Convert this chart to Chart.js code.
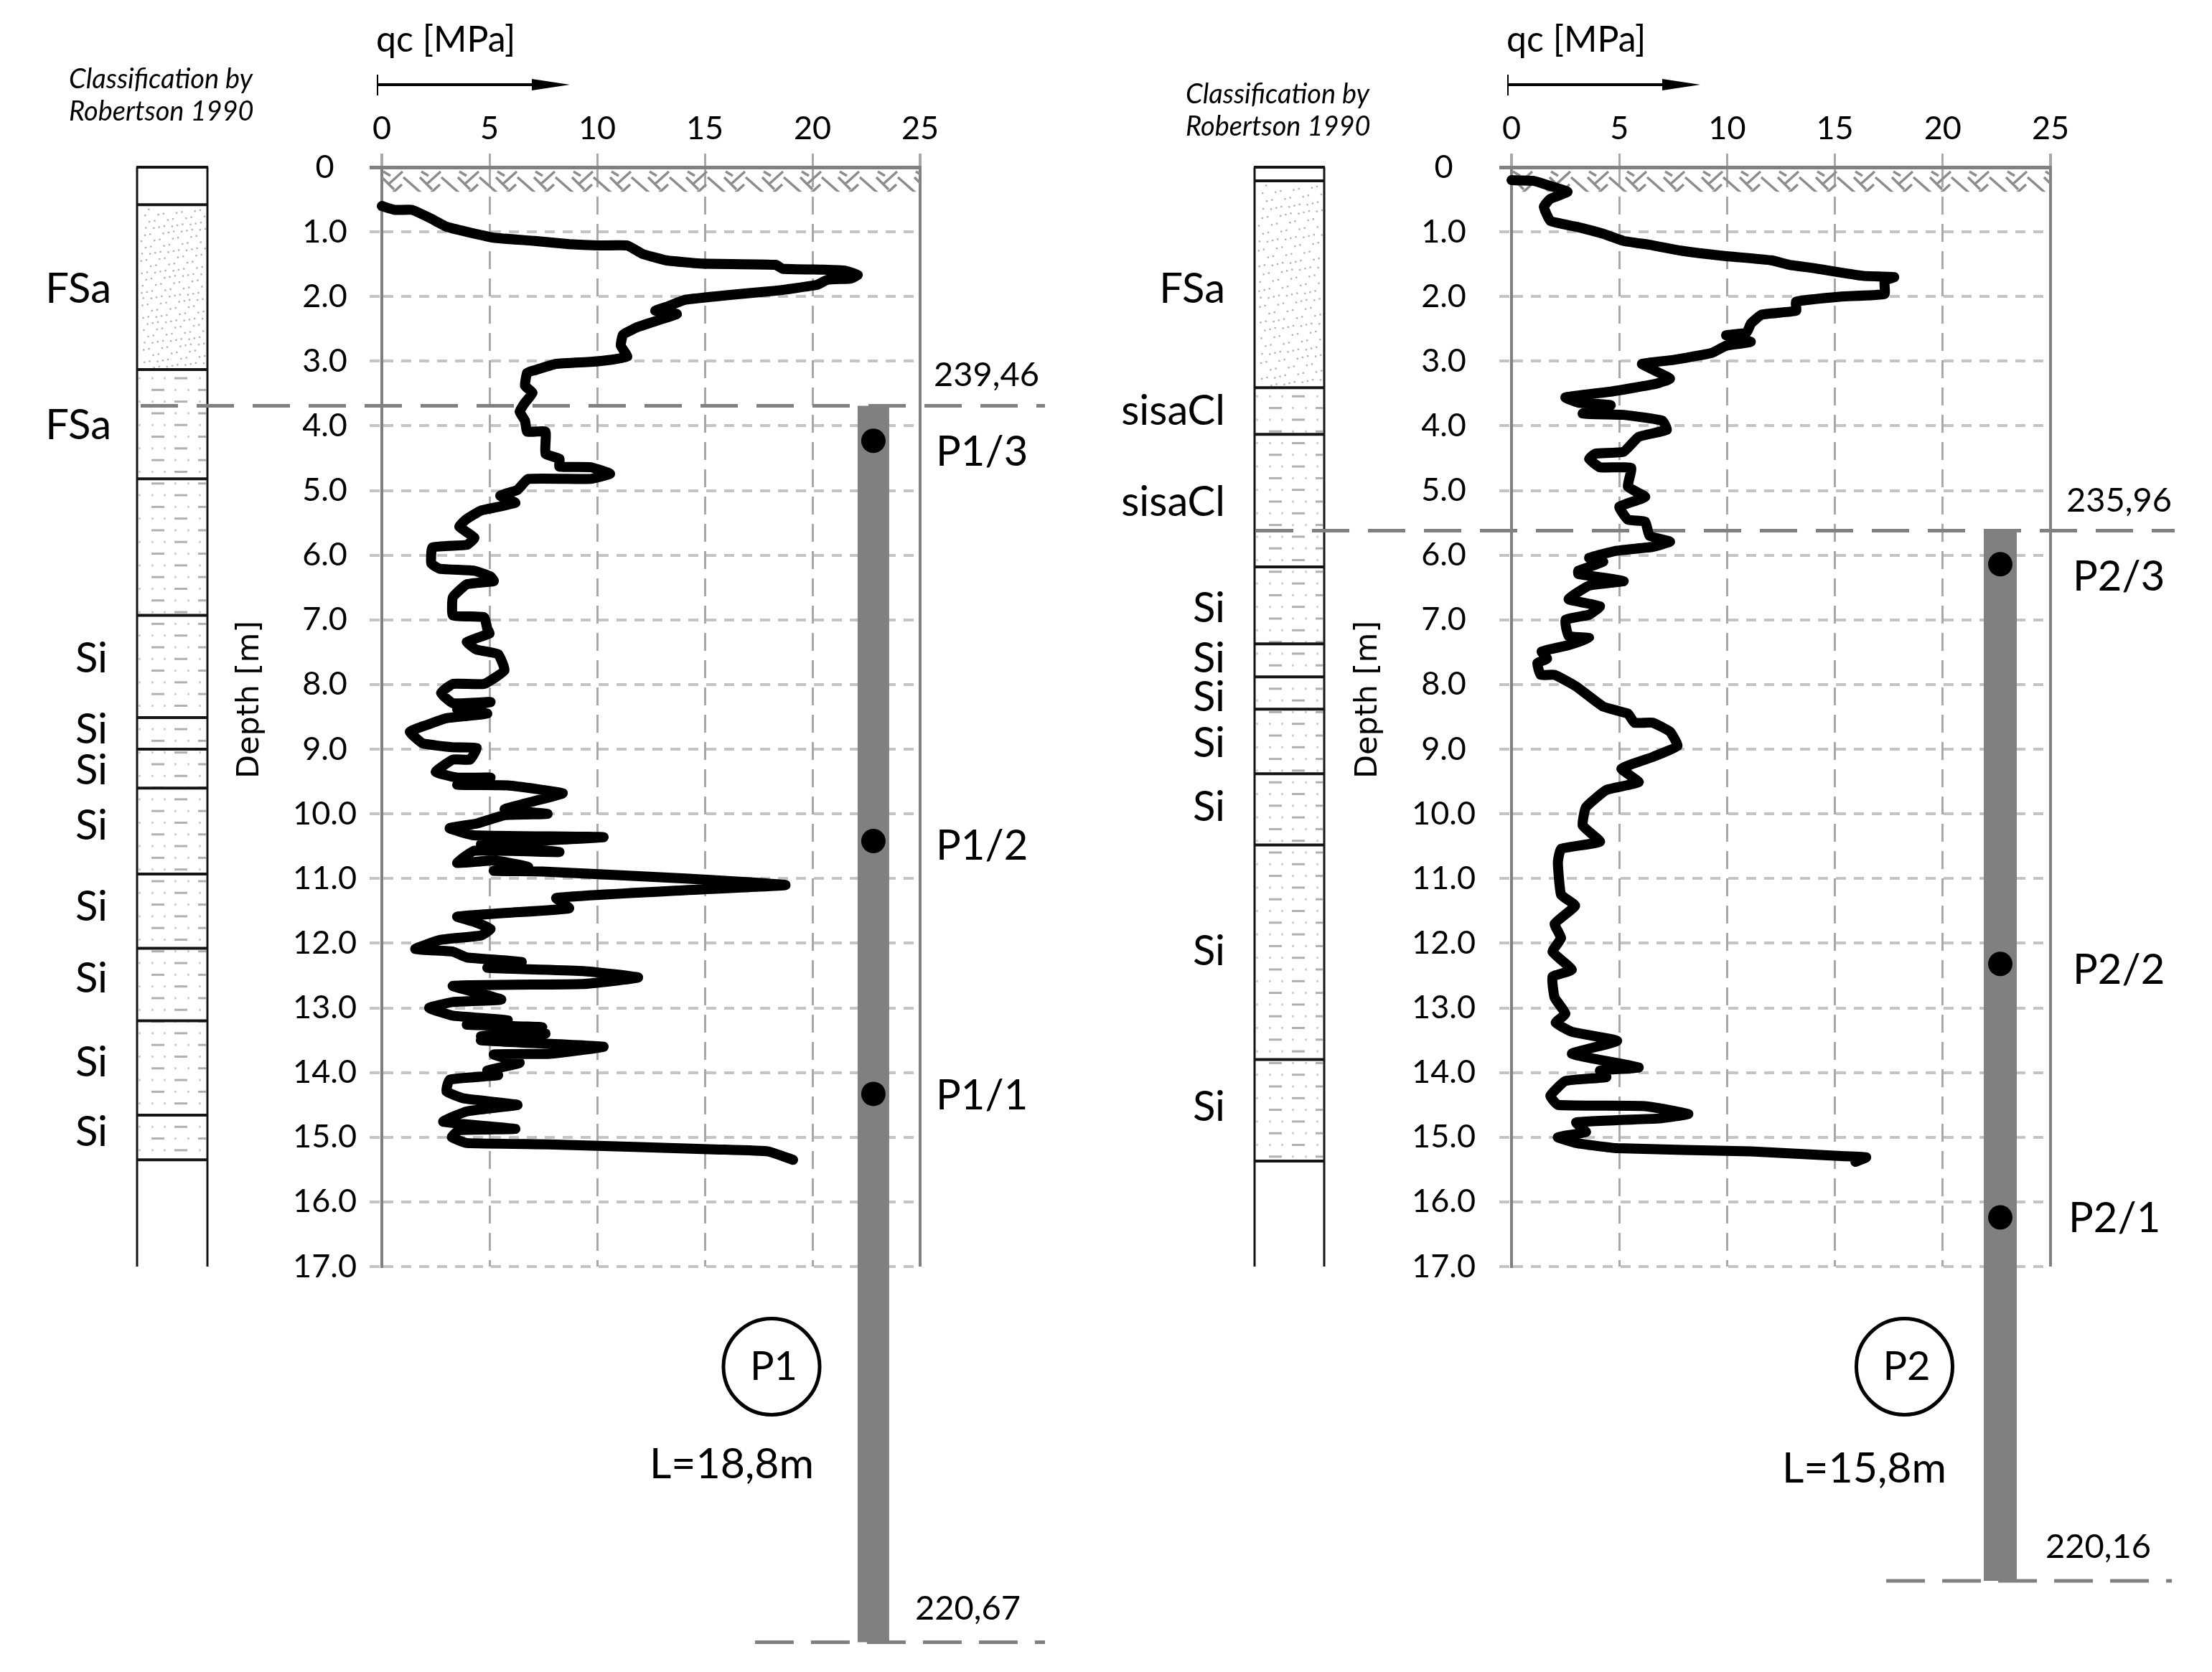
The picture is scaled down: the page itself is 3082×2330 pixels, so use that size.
<!DOCTYPE html>
<html>
<head>
<meta charset="utf-8">
<title>CPT profiles P1 and P2</title>
<script src="https://cdn.jsdelivr.net/npm/chart.js@4"></script>
<style>
  html, body { margin: 0; padding: 0; background: #fff; }
  canvas { position: absolute; top: 0; }
</style>
</head>
<body>
<canvas id="panelP1" width="1541" height="2330" style="left:0"></canvas>
<canvas id="panelP2" width="1541" height="2330" style="left:1541px"></canvas>
<script>
// x axis ticks
const qcTicks = [0, 5, 10, 15, 20, 25]

// qc trace of P1 [MPa] against depth [m]
const p1Qc = [0,.6,1.4,2.2,3,3.95,5.2,7.1,8.7,10,11.4,12.1,13.2,14.8,18.3,18.6,20.5,21.5,22.1,21.8,20.7,20.2,18.3,16,14.1,13.3,12.7,13.7,12.9,11.9,11.2,11.1,11.4,10.6,9.7,8.1,7.1,6.75,6.65,7,6.65,6.4,6.65,6.75,7.6,7.6,8.25,8.25,9.7,10.6,9.7,6.8,6.3,5.5,6.2,4.6,3.9,3.6,4.3,3.95,2.35,2.3,2.7,4.3,5.05,5.2,3.95,3.3,3.3,4.75,4.9,5,3.95,4.4,5.4,5.7,4.75,3.3,2.75,3.3,5.05,3.5,4.9,3,2.05,1.3,1.9,3.3,4.4,4.1,3.3,2.5,3.5,5.05,3.5,5.85,8.4,7.1,5.7,7.7,5.7,4.4,3.15,4.25,10.3,4.6,8.25,4.3,3.5,5.2,6.8,5.2,7.45,14.1,18.75,14.1,8.1,8.7,5.85,3.5,4.3,5.05,4.6,2.7,1.55,3.3,3.95,6.5,4.9,9.35,11.9,9.35,3.3,5.55,3.3,2.2,3.3,5.85,3.95,7.45,4.6,7.6,4.6,10.3,7.8,5.2,6.4,4.9,5.4,3.15,3,3.8,6.3,3.95,2.85,6.2,3.6,3.25,3.95,7.75,15.7,17.95,19.1]
const p1Depth = [.6,.66,.66,.78,.92,1,1.09,1.14,1.19,1.21,1.21,1.34,1.44,1.49,1.51,1.57,1.585,1.6,1.665,1.72,1.74,1.82,1.91,1.98,2.05,2.15,2.22,2.27,2.36,2.47,2.59,2.76,2.93,2.98,3.01,3.04,3.14,3.18,3.38,3.49,3.64,3.78,3.92,4.09,4.09,4.43,4.51,4.63,4.64,4.74,4.82,4.82,4.99,5.08,5.19,5.31,5.45,5.56,5.73,5.84,5.88,6.13,6.21,6.24,6.33,6.4,6.45,6.65,6.93,6.96,7.14,7.21,7.34,7.46,7.53,7.78,7.99,7.99,8.13,8.29,8.27,8.38,8.45,8.52,8.63,8.73,8.91,8.97,8.98,9.16,9.16,9.35,9.44,9.44,9.55,9.56,9.68,9.8,9.93,10,10.02,10.15,10.22,10.33,10.36,10.47,10.59,10.57,10.76,10.72,10.82,10.88,10.89,11,11.1,11.18,11.3,11.46,11.53,11.59,11.67,11.78,11.88,11.95,12.09,12.13,12.22,12.29,12.38,12.43,12.53,12.63,12.66,12.87,12.91,13,13.12,13.19,13.26,13.3,13.44,13.4,13.5,13.6,13.71,13.72,13.85,13.97,14.04,14.11,14.29,14.4,14.5,14.6,14.76,14.87,14.89,15,15.09,15.11,15.19,15.22,15.35]

// qc trace of P2
const p2Qc = [0,1,1.8,2.6,1.8,1.5,1.8,3,4.25,5.2,6.4,7.85,9.8,12.05,12.9,14,16.3,17.75,17.3,17.3,15.3,13.2,13.2,11.6,11.1,10.9,9.95,11.1,9.95,9.3,7.5,6.05,6.55,7.35,6.7,4.6,2.5,3.1,4.6,3.3,5.2,7,7.2,5.9,5.2,3.9,3.6,4.1,5.55,5.4,6.2,5,5.4,6.2,6.4,7.35,6.55,4.9,3.6,4.25,3.1,3.1,5.2,3.6,2.65,4.1,3.6,2.5,2.65,3.6,2.65,1.4,1.65,1.2,1.35,2,3,4.25,5.4,5.7,6.55,7.35,7.7,6.55,5.1,5.9,4.4,3.45,3.3,4.1,2.3,2.15,2.3,2.95,2,2.3,1.9,2.8,1.9,2,2.5,2.05,2.8,4.9,2.8,5.9,4.1,4.4,2.5,1.8,2.15,6.2,8.2,6.85,3,3.45,2.15,3,4.9,11.1,15.3,16.45,15.95]
const p2Depth = [.2,.21,.29,.38,.49,.61,.83,.92,1.03,1.14,1.2,1.29,1.37,1.44,1.51,1.56,1.68,1.7,1.755,1.96,2,2.08,2.22,2.28,2.42,2.56,2.6,2.7,2.76,2.87,2.98,3.04,3.13,3.27,3.35,3.47,3.56,3.64,3.68,3.81,3.83,3.92,4.06,4.17,4.4,4.43,4.51,4.64,4.65,4.94,5.1,5.25,5.45,5.48,5.7,5.79,5.87,5.93,6.04,6.1,6.24,6.29,6.4,6.47,6.68,6.79,6.92,7,7.25,7.28,7.39,7.49,7.6,7.67,7.85,7.85,8.03,8.34,8.45,8.59,8.59,8.73,8.95,9.12,9.3,9.51,9.63,9.9,10.18,10.43,10.54,10.75,11.25,11.42,11.7,11.92,12.13,12.41,12.52,12.84,13.09,13.23,13.37,13.51,13.71,13.92,13.97,14.07,14.13,14.36,14.5,14.52,14.64,14.71,14.77,14.92,15,15.09,15.17,15.22,15.29,15.31,15.38]

// sampling points on the piles
const p1SampleNames = ['P1/3', 'P1/2', 'P1/1']
const p1SampleDepth = [4.23, 10.42, 14.33]
const p1SampleQc = [22.83, 22.83, 22.83]
const p2SampleNames = ['P2/3', 'P2/2', 'P2/1']
const p2SampleDepth = [6.14, 12.32, 16.24]
const p2SampleQc = [22.67, 22.67, 22.67]

// pile head and toe [m]
const p1PileDepth = [3.69, 22.81]
const p2PileDepth = [5.62, 21.86]

// soil column
const p1LayerTops = [0, .58, 3.13, 4.82, 6.93, 8.51, 9, 9.6, 10.93, 12.08, 13.2, 14.66, 15.35]
const p2LayerTops = [0, .21, 3.41, 4.13, 6.18, 7.37, 7.88, 8.38, 9.38, 10.48, 13.8, 15.37]
const p1SoilNames = ['FSa', 'FSa', 'Si', 'Si', 'Si', 'Si', 'Si', 'Si', 'Si', 'Si']
const p1SoilDepth = [1.89, 4, 7.6, 8.7, 9.33, 10.19, 11.44, 12.55, 13.85, 14.93]
const p2SoilNames = ['FSa', 'sisaCl', 'sisaCl', 'Si', 'Si', 'Si', 'Si', 'Si', 'Si', 'Si']
const p2SoilDepth = [1.89, 3.78, 5.18, 6.83, 7.6, 8.2, 8.91, 9.9, 12.13, 14.54]

const FONT = 'Lato, "Open Sans", sans-serif'
const INK = '#000'

function zip(xs, ys) {
  return xs.map((x, i) => ({ x: x, y: ys[i] }))
}

function text(ctx, str, x, y, size, align, style) {
  ctx.font = (style ? style + ' ' : '') + size + 'px ' + FONT
  ctx.fillStyle = INK
  ctx.textAlign = align || 'left'
  ctx.textBaseline = 'middle'
  ctx.fillText(str, x, y)
}

function drawHatch(ctx, left, right, top, bottom) {
  // herringbone ground symbol
  const tile = [[30, 12, 55, 34], [0, 12, 17, 29], [29, 4, 9, 22], [28, 22, 15, 34], [2, 4, 12, 10]]
  ctx.save()
  ctx.beginPath()
  ctx.rect(left, top, right - left, bottom - top)
  ctx.clip()
  ctx.strokeStyle = '#8c8c8c'
  ctx.lineWidth = 3.5
  ctx.beginPath()
  for (let x = left - 53; x < right; x += 53) {
    tile.forEach(s => {
      ctx.moveTo(x + s[0], top + s[1])
      ctx.lineTo(x + s[2], top + s[3])
    })
  }
  ctx.stroke()
  ctx.restore()
}

function drawSand(ctx, left, right, top, bottom) {
  const w = right - left, h = bottom - top
  ctx.fillStyle = '#b4b4b4'
  for (let i = 1; i < 210; i++) {
    const px = left + 4 + ((i * 0.7548777) % 1) * (w - 8)
    const py = top + 5 + ((i * 0.5698403) % 1) * (h - 8)
    ctx.fillRect(px, py, 2.4, 2.4)
  }
}

function drawSilt(ctx, left, right, top, bottom) {
  ctx.save()
  ctx.beginPath()
  ctx.rect(left + 2, top, right - left - 4, bottom - top)
  ctx.clip()
  let row = 0
  for (let y = top + 12; y < bottom; y += 16.3, row++) {
    const dots = row % 2 ? [52, 70] : [2, 20, 37, 86]
    const dashes = row % 2 ? [[20, 18], [85, 16]] : [[52, 18]]
    ctx.fillStyle = '#d0d0d0'
    dots.forEach(d => ctx.fillRect(left + d, y - 1.5, 3, 3))
    ctx.fillStyle = '#b0b0b0'
    dashes.forEach(d => ctx.fillRect(left + d[0], y - 1.5, d[1], 3))
  }
  ctx.restore()
}

function drawColumn(chart, cfg) {
  const ctx = chart.ctx
  const y = chart.scales.y
  const left = cfg.colLeft, right = cfg.colRight
  const tops = cfg.layerTops
  drawSand(ctx, left, right, y.getPixelForValue(tops[1]), y.getPixelForValue(tops[2]))
  drawSilt(ctx, left, right, y.getPixelForValue(tops[2]), y.getPixelForValue(tops[tops.length - 1]))
  ctx.strokeStyle = '#141414'
  ctx.lineWidth = 3
  ctx.beginPath()
  ctx.moveTo(left, y.getPixelForValue(0))
  ctx.lineTo(left, y.getPixelForValue(17))
  ctx.moveTo(right, y.getPixelForValue(0))
  ctx.lineTo(right, y.getPixelForValue(17))
  ctx.stroke()
  ctx.lineWidth = 4
  ctx.beginPath()
  tops.forEach(d => {
    ctx.moveTo(left - 1, y.getPixelForValue(d))
    ctx.lineTo(right + 1, y.getPixelForValue(d))
  })
  ctx.stroke()
}

// everything around the plot that chart.js has no element for
const profileExtras = {
  id: 'profileExtras',
  beforeDatasetsDraw(chart, args, cfg) {
    const area = chart.chartArea
    drawHatch(chart.ctx, area.left, area.right, area.top + 2, chart.scales.y.getPixelForValue(0.38))
    drawColumn(chart, cfg)
  },
  afterDatasetsDraw(chart, args, cfg) {
    const ctx = chart.ctx
    const y = chart.scales.y
    const dx = cfg.offsetX

    text(ctx, 'qc [MPa]', cfg.qcLeft - dx, 56, 50)
    cfg.classLines.forEach((line, i) => {
      text(ctx, line, cfg.classLeft - dx, cfg.classY + i * 45, 38, 'left', 'italic')
    })

    // direction arrow under the qc title
    const ax = cfg.qcLeft + 2 - dx
    ctx.strokeStyle = INK
    ctx.lineWidth = 2
    ctx.beginPath()
    ctx.moveTo(ax, 104)
    ctx.lineTo(ax, 133)
    ctx.stroke()
    ctx.lineWidth = 4
    ctx.beginPath()
    ctx.moveTo(ax, 118)
    ctx.lineTo(ax + 225, 118)
    ctx.stroke()
    ctx.fillStyle = INK
    ctx.beginPath()
    ctx.moveTo(ax + 215, 110)
    ctx.lineTo(ax + 268, 118)
    ctx.lineTo(ax + 215, 126)
    ctx.closePath()
    ctx.fill()

    ctx.save()
    ctx.translate(cfg.depthTitleX - dx, 975)
    ctx.rotate(-Math.PI / 2)
    ctx.font = '43px "DejaVu Sans", sans-serif'
    ctx.fillStyle = INK
    ctx.textAlign = 'center'
    ctx.textBaseline = 'middle'
    ctx.fillText('Depth [m]', 0, 0)
    ctx.restore()

    cfg.soilNames.forEach((name, i) => {
      const gap = cfg.soilGap + (name === 'Si' ? cfg.siShift : 0)
      text(ctx, name, cfg.colLeft - gap, y.getPixelForValue(cfg.soilDepth[i]), 58, 'right')
    })
    cfg.sampleNames.forEach((name, i) => {
      text(ctx, name, cfg.sampleLeft[i] - dx, cfg.sampleY[i], 58)
    })
    text(ctx, cfg.headLevel, cfg.headLeft - dx, cfg.headY, 47)
    text(ctx, cfg.toeLevel, cfg.toeLeft - dx, cfg.toeY, 47)

    ctx.strokeStyle = INK
    ctx.lineWidth = 5
    ctx.beginPath()
    ctx.arc(cfg.circleX - dx, 1904.5, 67, 0, Math.PI * 2)
    ctx.stroke()
    text(ctx, cfg.pileName, cfg.circleX + 3 - dx, 1905, 56, 'center')
    text(ctx, cfg.lengthLabel, cfg.lengthLeft - dx, cfg.lengthY, 59)
  }
}

function buildPanel(canvasId, cfg) {
  const pileQc = cfg.sampleQc[0]
  new Chart(document.getElementById(canvasId), {
    type: 'scatter',
    plugins: [profileExtras],
    data: {
      datasets: [
        {
          label: 'samples',
          data: zip(cfg.sampleQc, cfg.sampleDepth),
          showLine: false,
          pointRadius: 17,
          pointBackgroundColor: '#000',
          pointBorderWidth: 0,
          order: 1,
          clip: false
        },
        {
          label: 'qc',
          data: zip(cfg.qc, cfg.depth),
          showLine: true,
          borderColor: '#000',
          borderWidth: 14,
          borderJoinStyle: 'round',
          borderCapStyle: 'round',
          pointRadius: 0,
          tension: 0.12,
          order: 2,
          clip: false
        },
        {
          label: 'head level',
          data: zip(cfg.headQc, [cfg.pileDepth[0], cfg.pileDepth[0]]),
          showLine: true,
          borderColor: '#808080',
          borderWidth: 5,
          borderDash: [52, 26],
          pointRadius: 0,
          order: 3,
          clip: false
        },
        {
          label: 'toe level',
          data: zip(cfg.toeQc, [cfg.pileDepth[1], cfg.pileDepth[1]]),
          showLine: true,
          borderColor: '#808080',
          borderWidth: 5,
          borderDash: [54, 24],
          pointRadius: 0,
          order: 4,
          clip: false
        },
        {
          label: 'pile',
          data: zip([pileQc, pileQc], cfg.pileDepth),
          showLine: true,
          borderColor: '#808080',
          borderWidth: cfg.pileWidth,
          borderCapStyle: 'butt',
          pointRadius: 0,
          order: 5,
          clip: false
        }
      ]
    },
    options: {
      responsive: false,
      animation: false,
      devicePixelRatio: 1,
      events: [],
      layout: {
        autoPadding: false,
        padding: { top: 0, left: 0, right: cfg.paddingRight, bottom: 565 }
      },
      plugins: {
        legend: { display: false },
        tooltip: { enabled: false },
        profileExtras: cfg
      },
      scales: {
        x: {
          type: 'linear',
          position: 'top',
          min: 0,
          max: 25,
          afterFit: scale => { scale.height = 233 },
          afterBuildTicks: scale => { scale.ticks = qcTicks.map(v => ({ value: v })) },
          ticks: {
            color: INK,
            padding: 8,
            maxRotation: 0,
            autoSkip: false,
            font: { family: FONT, size: 45 }
          },
          grid: {
            color: c => (c.tick.value === 0 || c.tick.value === 25 ? '#808080' : '#a8a8a8'),
            lineWidth: c => (c.tick.value === 0 || c.tick.value === 25 ? 4 : 3),
            tickLength: 19,
            tickColor: '#a8a8a8'
          },
          border: {
            display: true,
            color: '#808080',
            width: 5,
            dash: c => (c.tick && (c.tick.value === 0 || c.tick.value === 25) ? [] : [25, 13])
          }
        },
        y: {
          type: 'linear',
          position: 'left',
          reverse: true,
          min: 0,
          max: 17,
          afterFit: scale => { scale.width = cfg.axisLeft },
          ticks: {
            stepSize: 1,
            color: INK,
            padding: cfg.yTickPadding,
            crossAlign: 'center',
            autoSkip: false,
            font: { family: FONT, size: 45 },
            callback: v => (v === 0 ? '0' : v.toFixed(1))
          },
          grid: {
            color: c => (c.tick.value === 0 ? '#808080' : '#c4c4c4'),
            lineWidth: c => (c.tick.value === 0 ? 5 : 4),
            tickLength: 17,
            tickColor: c => (c.tick.value === 0 ? '#808080' : '#c4c4c4'),
            tickBorderDash: c => (c.tick.value === 0 ? [] : [14, 11])
          },
          border: {
            display: true,
            color: '#808080',
            width: 4,
            dash: c => (c.tick && c.tick.value === 0 ? [] : [14, 11])
          }
        }
      }
    }
  })
}

buildPanel('panelP1', {
  offsetX: 0,
  axisLeft: 532,
  paddingRight: 259,
  yTickPadding: 18,
  qc: p1Qc,
  depth: p1Depth,
  sampleQc: p1SampleQc,
  sampleDepth: p1SampleDepth,
  sampleNames: p1SampleNames,
  sampleLeft: [1304, 1304, 1304],
  sampleY: [630, 1179, 1527],
  pileDepth: p1PileDepth,
  pileWidth: 44,
  headQc: [-11.2, 30.8],
  toeQc: [17.33, 30.8],
  colLeft: 191,
  colRight: 289,
  layerTops: p1LayerTops,
  soilNames: p1SoilNames,
  soilDepth: p1SoilDepth,
  soilGap: 36,
  siShift: 5,
  qcLeft: 524,
  classLeft: 96,
  classY: 111,
  classLines: ['Classification by', 'Robertson 1990'],
  depthTitleX: 349,
  headLevel: '239,46',
  headLeft: 1301,
  headY: 523,
  toeLevel: '220,67',
  toeLeft: 1275,
  toeY: 2242,
  circleX: 1075,
  pileName: 'P1',
  lengthLabel: 'L=18,8m',
  lengthLeft: 905,
  lengthY: 2041
})

buildPanel('panelP2', {
  offsetX: 1541,
  axisLeft: 565,
  paddingRight: 225,
  yTickPadding: 33,
  qc: p2Qc,
  depth: p2Depth,
  sampleQc: p2SampleQc,
  sampleDepth: p2SampleDepth,
  sampleNames: p2SampleNames,
  sampleLeft: [2888, 2888, 2882],
  sampleY: [804, 1352, 1698],
  pileDepth: p2PileDepth,
  pileWidth: 46,
  headQc: [-11.85, 30.76],
  toeQc: [17.38, 30.63],
  colLeft: 207,
  colRight: 304,
  layerTops: p2LayerTops,
  soilNames: p2SoilNames,
  soilDepth: p2SoilDepth,
  soilGap: 41,
  siShift: 0,
  qcLeft: 2099,
  classLeft: 1652,
  classY: 132,
  classLines: ['Classification by', 'Robertson 1990'],
  depthTitleX: 1907,
  headLevel: '235,96',
  headLeft: 2879,
  headY: 698,
  toeLevel: '220,16',
  toeLeft: 2850,
  toeY: 2156,
  circleX: 2653.5,
  pileName: 'P2',
  lengthLabel: 'L=15,8m',
  lengthLeft: 2483,
  lengthY: 2047
})
</script>
</body>
</html>
